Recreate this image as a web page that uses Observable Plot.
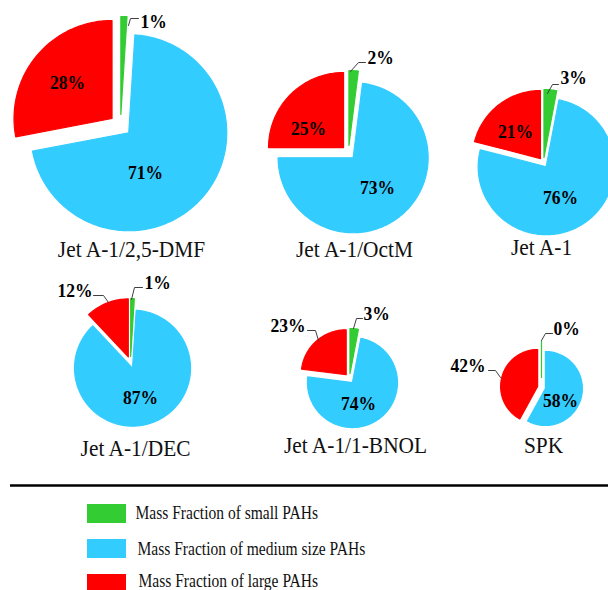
<!DOCTYPE html>
<html><head><meta charset="utf-8">
<script src="https://cdn.jsdelivr.net/npm/d3@7"></script>
<script src="https://cdn.jsdelivr.net/npm/@observablehq/plot@0.6"></script>
<style>body{margin:0;background:#fff} svg{display:block}</style>
</head><body>
<script>
// ---- data ----
const fuels = ["Jet A-1/2,5-DMF", "Jet A-1/OctM", "Jet A-1", "Jet A-1/DEC", "Jet A-1/1-BNOL", "SPK"];
const small  = [1, 2, 3, 1, 3, 0];
const medium = [71, 73, 76, 87, 74, 58];
const large  = [28, 25, 21, 12, 23, 42];
const fractionKeys = ["small", "medium", "large"];
const legendLabels = ["Mass Fraction of small PAHs", "Mass Fraction of medium size PAHs", "Mass Fraction of large PAHs"];
const colors = ["#33cc33", "#33ccff", "#ff0000"];

// ---- layout (pixels) ----
const centers = [[120,125],[348,152],[543,162],[130,362],[349,378],[541,387]];
const radii = [98, 75, 68, 58, 45, 37];
const explode = [[11,11,11],[7,7,7],[5,5,5],[6,6,6],[5,5,5],[10,4,4]];
const nameAnchors = [[131,256.5],[354,256],[541,254],[135,455],[355,452],[543,452]];
// per pie, per fraction: text offset, anchor, optional leader polyline (offsets from pie centre)
const labelLayout = [
  [{t:[20,-104],a:"start",l:[[8,-100],[10,-107],[18,-107]]}, {t:[25,47],a:"middle"}, {t:[-53,-43],a:"middle"}],
  [{t:[19,-95],a:"start",l:[[2,-81],[10,-90],[17,-90]]}, {t:[29,35],a:"middle"}, {t:[-40,-24],a:"middle"}],
  [{t:[17,-85],a:"start",l:[[4,-69],[9,-78],[15,-78]]}, {t:[17,35],a:"middle"}, {t:[-28,-31],a:"middle"}],
  [{t:[14,-80],a:"start",l:[[1,-63],[4,-75],[12,-75]]}, {t:[10,35],a:"middle"}, {t:[-38,-72],a:"end",l:[[-22,-60],[-27,-67],[-37,-67]]}],
  [{t:[14,-65],a:"start",l:[[4,-50],[7,-60],[13,-60]]}, {t:[9,25],a:"middle"}, {t:[-44,-53],a:"end",l:[[-31,-38],[-34,-48],[-42,-48]]}],
  [{t:[12,-59],a:"start",l:[[0,-47],[4,-54],[11,-54]]}, {t:[19,13],a:"middle"}, {t:[-56,-22],a:"end",l:[[-41,-10],[-46,-17],[-53,-17]]}]
];
const legendX = [[87,126,135],[87,126,137],[87,126,138]];
const legendY = [[504,523],[539,558],[574,593]];
const legendTextY = [513, 549, 580.5];

// ---- build geometry ----
const slicePts = [], leaderPts = [], pctLabels = [];
fuels.forEach((f, i) => {
  const vals = [small[i], medium[i], large[i]];
  const arcs = d3.pie().sort(null).value(d => d)(vals);
  const [cx, cy] = centers[i], r = radii[i];
  arcs.forEach((a, j) => {
    const mid = (a.startAngle + a.endAngle) / 2;
    const e = explode[i][j];
    const ox = cx + e * Math.sin(mid), oy = cy - e * Math.cos(mid);
    const id = i + "-" + j;
    slicePts.push({id, part: fractionKeys[j], x: ox, y: oy});
    const n = Math.max(1, Math.ceil((a.endAngle - a.startAngle) / (Math.PI / 180)));
    for (let k = 0; k <= n; k++) {
      const ang = a.startAngle + (a.endAngle - a.startAngle) * k / n;
      slicePts.push({id, part: fractionKeys[j], x: ox + r * Math.sin(ang), y: oy - r * Math.cos(ang)});
    }
    const L = labelLayout[i][j];
    pctLabels.push({x: cx + L.t[0], y: cy + L.t[1], text: vals[j] + "%", anchor: L.a});
    if (L.l) L.l.forEach(p => leaderPts.push({id, x: cx + p[0], y: cy + p[1]}));
  });
});
const names = fuels.map((f, i) => ({name: f, x: nameAnchors[i][0], y: nameAnchors[i][1]}));
const legendRows = fractionKeys.map((k, i) => ({key: k, label: legendLabels[i],
  x1: legendX[i][0], x2: legendX[i][1], tx: legendX[i][2], y1: legendY[i][0], y2: legendY[i][1], ty: legendTextY[i]}));

const pctStyle = {fontFamily: "Liberation Serif", fontWeight: "bold", fontSize: 19.5, fill: "#000", lineAnchor: "middle"};

const plot = Plot.plot({
  width: 608, height: 590, margin: 0,
  x: {domain: [0, 608], range: [0, 608], axis: null},
  y: {domain: [0, 590], range: [0, 590], axis: null},
  color: {domain: fractionKeys, range: colors},
  marks: [
    Plot.line(slicePts, {x: "x", y: "y", z: "id", fill: "part", stroke: "part", strokeWidth: 1.2, curve: "linear-closed"}),
    Plot.line(leaderPts, {x: "x", y: "y", z: "id", stroke: "#404040", strokeWidth: 1}),
    Plot.text(pctLabels.filter(d => d.anchor === "middle"), {x: "x", y: "y", text: "text", textAnchor: "middle", ...pctStyle}),
    Plot.text(pctLabels.filter(d => d.anchor === "start"), {x: "x", y: "y", text: "text", textAnchor: "start", ...pctStyle}),
    Plot.text(pctLabels.filter(d => d.anchor === "end"), {x: "x", y: "y", text: "text", textAnchor: "end", ...pctStyle}),
    Plot.text(names, {x: "x", y: "y", text: "name", textAnchor: "middle", lineAnchor: "bottom", fontFamily: "Liberation Serif", fontSize: 23.5, fill: "#111"}),
    Plot.ruleY([485], {x1: 10, x2: 608, stroke: "#000", strokeWidth: 2.6}),
    Plot.rect(legendRows, {x1: "x1", x2: "x2", y1: "y1", y2: "y2", fill: "key"}),
    Plot.text(legendRows, {x: "tx", y: "ty", text: "label", textAnchor: "start", lineAnchor: "middle", fontFamily: "Liberation Serif", fontSize: 18.5, fill: "#111"})
  ]
});
document.body.append(plot);

// condense the serif labels horizontally (reference text is narrow)
const factorFor = s => fuels.includes(s) ? 0.91 : legendLabels.includes(s) ? 0.84 : /%$/.test(s) ? 0.9 : 1;
plot.querySelectorAll("text").forEach(t => {
  const f = factorFor(t.textContent.trim());
  if (f === 1) return;
  let len = 0;
  try { len = t.getComputedTextLength(); } catch (e) {}
  if (!len) { try { len = t.getBBox().width; } catch (e) {} }
  if (len > 0) {
    t.setAttribute("textLength", (len * f).toFixed(1));
    t.setAttribute("lengthAdjust", "spacingAndGlyphs");
  }
});
</script>
</body></html>
